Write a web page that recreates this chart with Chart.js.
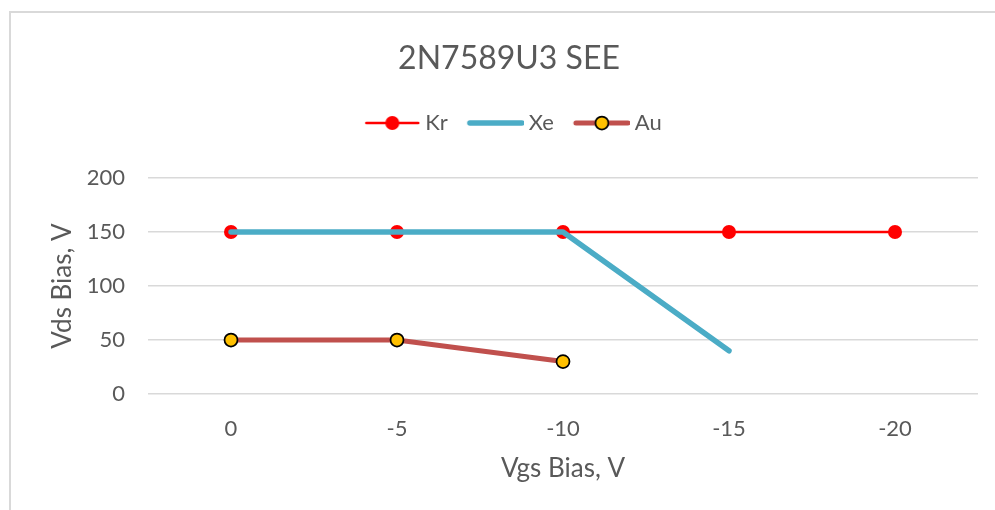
<!DOCTYPE html>
<html>
<head>
<meta charset="utf-8">
<script src="https://cdn.jsdelivr.net/npm/chart.js@4.4.1/dist/chart.umd.min.js"></script>
<style>
  html, body { margin: 0; padding: 0; background: #ffffff; overflow: hidden; }
  #wrap { position: relative; width: 995px; height: 510px; }
  #frame { position: absolute; left: 9px; top: 11px; width: 1100px; height: 700px; border-left: 2px solid #d9d9d9; border-top: 2px solid #d9d9d9; box-sizing: border-box; }
  #c { position: absolute; left: 0; top: 0; }
</style>
</head>
<body>
<div id="wrap">
  <div id="frame"></div>
  <canvas id="c" width="995" height="510"></canvas>
</div>
<script>
// ---- data ----
const categories = ['0', '-5', '-10', '-15', '-20'];
const krValues = [150, 150, 150, 150, 150];
const xeValues = [150, 150, 150, 40, null];
const auValues = [50, 50, 30, null, null];
const seriesNames = ['Kr', 'Xe', 'Au'];
const yTicks = [0, 50, 100, 150, 200];

const TEXT = '#595959';
const FONT = 'Lato, "Liberation Sans", sans-serif';

// legend icon: line + optional marker, drawn 7px right of the canvas centre
function legendIcon(color, lineWidth, marker) {
  const cv = document.createElement('canvas');
  cv.width = 70; cv.height = 18;
  const ctx = cv.getContext('2d');
  const ox = 14;
  ctx.strokeStyle = color;
  ctx.lineWidth = lineWidth;
  ctx.lineCap = 'round';
  ctx.beginPath();
  ctx.moveTo(ox + 2, 9); ctx.lineTo(ox + 54, 9);
  ctx.stroke();
  if (marker) {
    ctx.beginPath();
    ctx.arc(ox + 28, 9, marker.r, 0, Math.PI * 2);
    ctx.fillStyle = marker.fill;
    ctx.fill();
    if (marker.border) {
      ctx.lineWidth = marker.bw;
      ctx.strokeStyle = marker.border;
      ctx.stroke();
    }
  }
  return cv;
}

const icons = [
  legendIcon('#FF0000', 2.5, { r: 7, fill: '#FF0000' }),
  legendIcon('#4BACC6', 5.5, null),
  legendIcon('#C0504D', 5, { r: 6.5, fill: '#FFC000', border: '#000000', bw: 1.75 })
];

const datasets = [
  {
    label: seriesNames[0], data: krValues, order: 3,
    borderColor: '#FF0000', backgroundColor: '#FF0000', borderWidth: 2.5,
    pointRadius: 7, pointBackgroundColor: '#FF0000', pointBorderColor: '#FF0000', pointBorderWidth: 0,
    tension: 0
  },
  {
    label: seriesNames[1], data: xeValues, order: 2,
    borderColor: '#4BACC6', backgroundColor: '#4BACC6', borderWidth: 5.5,
    pointRadius: 0, borderCapStyle: 'round', borderJoinStyle: 'round',
    tension: 0
  },
  {
    label: seriesNames[2], data: auValues, order: 1,
    borderColor: '#C0504D', backgroundColor: '#C0504D', borderWidth: 5,
    pointRadius: 6.5, pointBackgroundColor: '#FFC000', pointBorderColor: '#000000', pointBorderWidth: 1.75,
    borderCapStyle: 'round', borderJoinStyle: 'round',
    tension: 0
  }
];

new Chart(document.getElementById('c'), {
  type: 'line',
  data: { labels: categories, datasets: datasets },
  options: {
    responsive: false,
    devicePixelRatio: 1,
    animation: false,
    layout: { padding: { left: 40, right: 17, top: 0, bottom: 0 } },
    plugins: {
      tooltip: { enabled: false },
      title: {
        display: true, text: '2N7589U3 SEE', color: TEXT,
        font: { family: FONT, size: 32, weight: 'normal' },
        padding: { top: 39.3, bottom: 22.3 }
      },
      subtitle: {
        display: true, text: ' ', weight: 500, color: 'rgba(0,0,0,0)',
        font: { size: 10, lineHeight: 1 },
        padding: { top: 24, bottom: 0 }
      },
      legend: {
        display: true, position: 'top',
        labels: {
          usePointStyle: true, pointStyleWidth: 58, padding: 12,
          color: TEXT, font: { family: FONT, size: 22 },
          generateLabels: (chart) => chart.data.datasets.map((ds, i) => ({
            text: ds.label, pointStyle: icons[i], fillStyle: ds.borderColor,
            strokeStyle: ds.borderColor, lineWidth: 0, hidden: false, datasetIndex: i, fontColor: TEXT
          }))
        }
      }
    },
    scales: {
      x: {
        type: 'category', offset: true,
        grid: { display: false, drawTicks: false },
        border: { display: false },
        ticks: { color: TEXT, font: { family: FONT, size: 22 }, padding: 22, maxRotation: 0 },
        title: { display: true, text: 'Vgs Bias, V', color: TEXT, font: { family: FONT, size: 26 }, padding: { top: 0, bottom: 26 } },
        afterFit: (s) => { s.height = 116; }
      },
      y: {
        min: 0, max: 200,
        afterBuildTicks: (s) => { s.ticks = yTicks.map(v => ({ value: v })); },
        grid: { color: '#d9d9d9', lineWidth: 1.5, drawTicks: false },
        border: { display: false },
        ticks: { color: TEXT, font: { family: FONT, size: 22 }, padding: 23 },
        title: { display: true, text: 'Vds Bias, V', color: TEXT, font: { family: FONT, size: 26 }, padding: { top: 7, bottom: 0 } },
        afterFit: (s) => { s.width = 108; }
      }
    }
  }
});
</script>
</body>
</html>
